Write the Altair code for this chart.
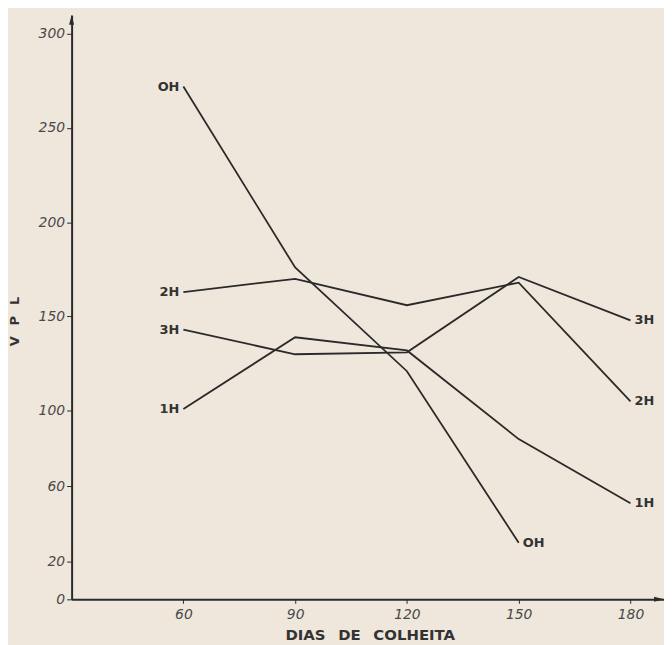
import altair as alt
import pandas as pd

days = [60, 90, 120, 150, 180]
series_names = ["OH", "1H", "2H", "3H"]
oh = [272, 176, 121, 30]
h1 = [101, 139, 132, 85, 51]
h2 = [163, 170, 156, 168, 105]
h3 = [143, 130, 131, 171, 148]
y_ticks = [0, 20, 60, 100, 150, 200, 250, 300]
x_ticks = [60, 90, 120, 150, 180]

values = {"OH": oh, "1H": h1, "2H": h2, "3H": h3}
rows = []
for s in series_names:
    for d, v in zip(days, values[s]):
        rows.append({"serie": s, "dia": d, "vpl": v})
df = pd.DataFrame(rows)

left = df[df["dia"] == 60].copy()
right = df.loc[df.groupby("serie")["dia"].idxmax()].copy()

INK = "#2a2a2a"
XD = [30, 189]
YD = [0, 310]

xs = alt.Scale(domain=XD, nice=False, zero=False)
ys = alt.Scale(domain=YD, nice=False, zero=False)

base = alt.Chart(df)

lines = base.mark_line(color=INK, strokeWidth=1.8).encode(
    x=alt.X("dia:Q", scale=xs, axis=alt.Axis(
        values=x_ticks, title="DIAS\u00a0\u2002DE\u00a0\u2002COLHEITA", grid=False,
        labelFont="DejaVu Sans", labelFontStyle="italic", labelFontSize=14,
        labelColor="#4a4a4a", tickColor=INK, tickSize=4, labelPadding=4,
        domainColor=INK, domainWidth=2,
        titleFont="DejaVu Sans", titleFontWeight="bold", titleFontSize=15,
        titleColor="#333333", titleX=300, titleY=40, titleBaseline="alphabetic")),
    y=alt.Y("vpl:Q", scale=ys, axis=alt.Axis(
        values=y_ticks, title="V\u2002 P\u2002 L", grid=False,
        labelFont="DejaVu Sans", labelFontStyle="italic", labelFontSize=14,
        labelColor="#4a4a4a", tickColor=INK, tickSize=5, labelPadding=2,
        domainColor=INK, domainWidth=2,
        titleFont="DejaVu Sans", titleFontWeight="bold", titleFontSize=13,
        titleColor="#333333", titleX=-57, titleY=308, titleAngle=-90,
        titleAlign="center", titleBaseline="middle")),
    detail="serie:N",
)

lab_left = alt.Chart(left).mark_text(
    align="right", baseline="middle", dx=-4, font="DejaVu Sans",
    fontWeight="bold", fontSize=13, color="#333333"
).encode(x=alt.X("dia:Q", scale=xs), y=alt.Y("vpl:Q", scale=ys), text="serie:N")

lab_right = alt.Chart(right).mark_text(
    align="left", baseline="middle", dx=4, font="DejaVu Sans",
    fontWeight="bold", fontSize=13, color="#333333"
).encode(x=alt.X("dia:Q", scale=xs), y=alt.Y("vpl:Q", scale=ys), text="serie:N")

arrow_y = alt.Chart(pd.DataFrame({"dia": [XD[0]], "vpl": [YD[1]]})).mark_point(
    shape="M0,0L-0.5,2L0.5,2Z", size=100, filled=True, color=INK, opacity=1
).encode(x=alt.X("dia:Q", scale=xs), y=alt.Y("vpl:Q", scale=ys))

arrow_x = alt.Chart(pd.DataFrame({"dia": [XD[1]], "vpl": [YD[0]]})).mark_point(
    shape="M0,0L-2,-0.5L-2,0.5Z", size=100, filled=True, color=INK, opacity=1
).encode(x=alt.X("dia:Q", scale=xs), y=alt.Y("vpl:Q", scale=ys))

chart = alt.layer(lines, lab_left, lab_right, arrow_y, arrow_x).properties(
    width=596, height=588,
    padding={"left": 64, "top": 5, "right": 0, "bottom": 44},
    autosize=alt.AutoSizeParams(type="none"),
).configure(background="#efe7dc").configure_view(stroke=None)

chart.save("out.html", embed_options={"renderer": "svg", "actions": False})
